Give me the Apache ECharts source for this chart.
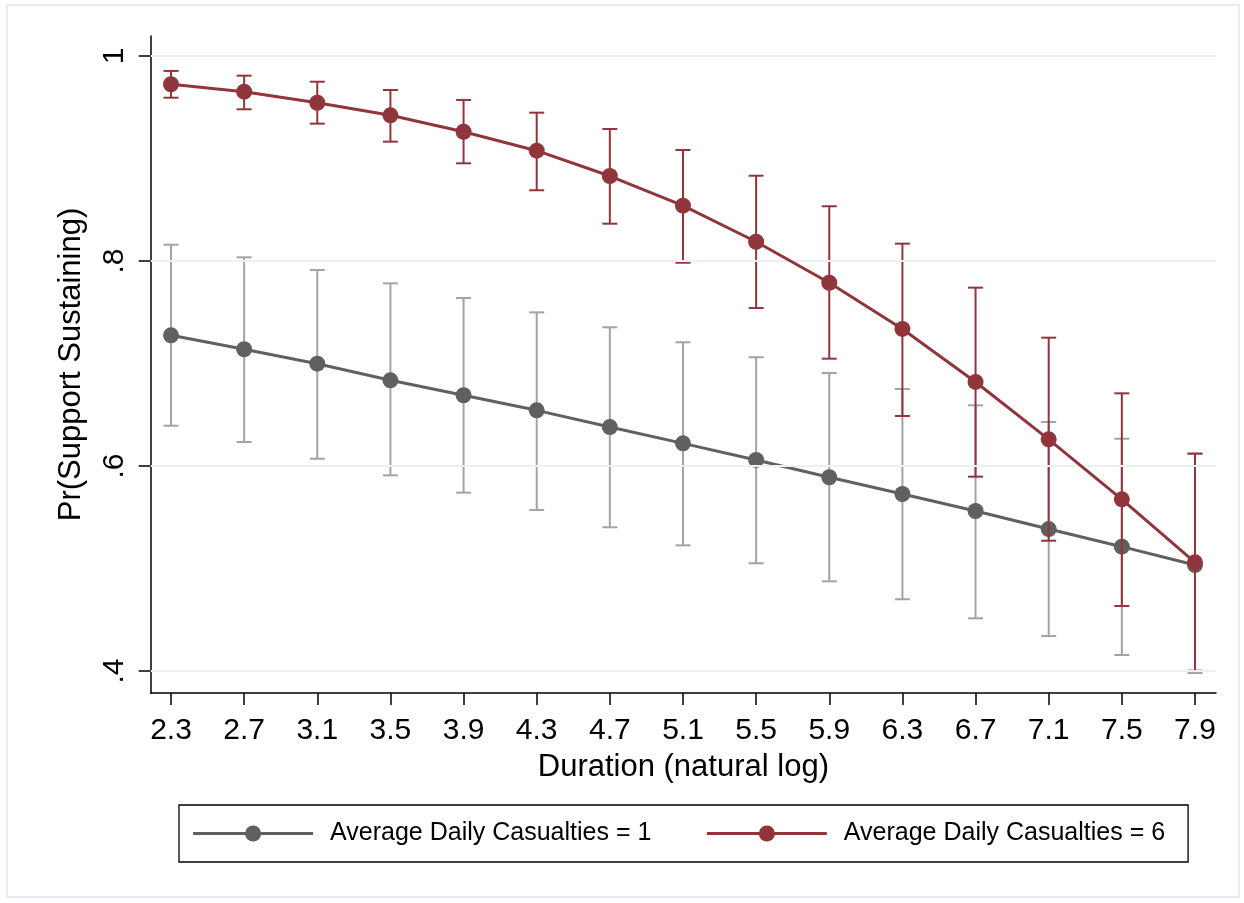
<!DOCTYPE html>
<html><head><meta charset="utf-8">
<script src="https://cdn.jsdelivr.net/npm/echarts@6/dist/echarts.min.js"></script>
<style>html,body{margin:0;padding:0;background:#fff}#c{width:1244px;height:903px}</style>
</head><body><div id="c"></div>
<script>
// ---- data ----
const durations = [2.3, 2.7, 3.1, 3.5, 3.9, 4.3, 4.7, 5.1, 5.5, 5.9, 6.3, 6.7, 7.1, 7.5, 7.9];
const xTickValues = [2.3, 2.7, 3.1, 3.5, 3.9, 4.3, 4.7, 5.1, 5.5, 5.9, 6.3, 6.7, 7.1, 7.5, 7.9];
const yTickValues = [0.4, 0.6, 0.8, 1];

const cas1Name = 'Average Daily Casualties = 1';
const cas1Mean  = [0.7275, 0.7139, 0.6998, 0.6836, 0.6690, 0.6543, 0.6380, 0.6221, 0.6059, 0.5890, 0.5727, 0.5561, 0.5385, 0.5213, 0.5034];
const cas1Lower = [0.6393, 0.6234, 0.6071, 0.5909, 0.5740, 0.5571, 0.5402, 0.5226, 0.5051, 0.4875, 0.4700, 0.4514, 0.4341, 0.4156, 0.3980];
const cas1Upper = [0.8159, 0.8036, 0.7912, 0.7782, 0.7639, 0.7499, 0.7353, 0.7207, 0.7061, 0.6907, 0.6751, 0.6592, 0.6429, 0.6266, 0.6117];

const cas6Name = 'Average Daily Casualties = 6';
const cas6Mean  = [0.9724, 0.9652, 0.9544, 0.9421, 0.9261, 0.9076, 0.8829, 0.8540, 0.8188, 0.7788, 0.7337, 0.6820, 0.6260, 0.5675, 0.5060];
const cas6Lower = [0.9593, 0.9480, 0.9340, 0.9164, 0.8953, 0.8690, 0.8364, 0.7983, 0.7541, 0.7047, 0.6488, 0.5896, 0.5271, 0.4634, 0.4003];
const cas6Upper = [0.9854, 0.9808, 0.9749, 0.9668, 0.9571, 0.9447, 0.9288, 0.9083, 0.8832, 0.8534, 0.8169, 0.7740, 0.7252, 0.6709, 0.6122];

// ---- styles ----
const FONT = '"Liberation Sans", Arial, Helvetica, sans-serif';
const GRAY = '#606060', GRAY_CI = '#a3a3a3';
const RED = '#90353B', RED_CI = '#90353B';

function pairs(xs, ys) { return xs.map((x, i) => [x, ys[i]]); }
function triples(xs, lo, hi) { return xs.map((x, i) => [x, lo[i], hi[i]]); }

function errRender(color) {
  return function (params, api) {
    const x = api.value(0), lo = api.value(1), hi = api.value(2);
    const a = api.coord([x, lo]), b = api.coord([x, hi]);
    const hw = 7.5;
    const style = { stroke: color, lineWidth: 2, fill: null };
    return {
      type: 'group',
      children: [
        { type: 'line', shape: { x1: a[0], y1: a[1], x2: b[0], y2: b[1] }, style: style },
        { type: 'line', shape: { x1: a[0] - hw, y1: a[1], x2: a[0] + hw, y2: a[1] }, style: style },
        { type: 'line', shape: { x1: b[0] - hw, y1: b[1], x2: b[0] + hw, y2: b[1] }, style: style }
      ]
    };
  };
}

const chart = echarts.init(document.getElementById('c'), null, { renderer: 'canvas' });
chart.setOption({
  animation: false,
  backgroundColor: '#ffffff',
  graphic: [{
    type: 'rect', silent: true, z: -10,
    shape: { x: 7, y: 5, width: 1232, height: 892 },
    style: { fill: null, stroke: '#e6edf0', lineWidth: 2 }
  }],
  grid: { left: 150.7, right: 28, top: 36, bottom: 210, containLabel: false },
  xAxis: {
    type: 'value', min: 2.189, max: 8.015,
    name: 'Duration (natural log)', nameLocation: 'middle', nameGap: 59,
    nameTextStyle: { fontFamily: FONT, fontSize: 31, color: '#000' },
    axisLine: { show: true, onZero: false, lineStyle: { color: '#000', width: 1.5 } },
    axisTick: { show: true, customValues: xTickValues, length: 12, lineStyle: { color: '#000', width: 1.5 } },
    axisLabel: { customValues: xTickValues, margin: 23, fontFamily: FONT, fontSize: 30, color: '#000',
                 formatter: v => v.toFixed(1) },
    splitLine: { show: false }
  },
  yAxis: {
    type: 'value', min: 0.37854, max: 1.0195,
    name: 'Pr(Support Sustaining)', nameLocation: 'middle', nameGap: 64, nameRotate: 90,
    nameTextStyle: { fontFamily: FONT, fontSize: 31, color: '#000' },
    axisLine: { show: true, onZero: false, lineStyle: { color: '#000', width: 1.5 } },
    axisTick: { show: true, customValues: yTickValues, length: 12, lineStyle: { color: '#000', width: 1.5 } },
    axisLabel: { customValues: yTickValues, rotate: 90, margin: 21, fontFamily: FONT, fontSize: 30, color: '#000',
                 formatter: v => (Math.abs(v - 1) < 1e-9 ? '1' : String(+v.toFixed(1)).replace(/^0/, '')) },
    splitLine: { show: false }
  },
  legend: {
    data: [cas1Name, cas6Name],
    selectedMode: false,
    left: 179, top: 805, orient: 'horizontal',
    itemWidth: 120, itemHeight: 20, itemGap: 54,
    padding: [16, 23, 16, 12.6],
    borderColor: '#000', borderWidth: 1.3,
    lineStyle: { width: 3 },
    textStyle: { fontFamily: FONT, fontSize: 25, color: '#000', lineHeight: 25, padding: [0, 0, 0, 12] }
  },
  series: [
    {
      name: 'gridlines', type: 'line', data: [], z: 0, silent: true,
      markLine: {
        silent: true, symbol: 'none', label: { show: false }, animation: false,
        lineStyle: { color: '#eaf1f3', width: 2, type: 'solid' },
        emphasis: { disabled: true },
        data: yTickValues.map(v => ({ yAxis: v }))
      }
    },
    {
      name: 'ci1', type: 'custom', z: 2, silent: true,
      renderItem: errRender(GRAY_CI),
      encode: { x: 0, y: [1, 2] },
      data: triples(durations, cas1Lower, cas1Upper)
    },
    {
      name: cas1Name, type: 'line', z: 3, silent: true,
      data: pairs(durations, cas1Mean),
      symbol: 'circle', symbolSize: 16, showAllSymbol: true,
      lineStyle: { color: GRAY, width: 3 },
      itemStyle: { color: GRAY }
    },
    {
      name: 'ci6', type: 'custom', z: 4, silent: true,
      renderItem: errRender(RED_CI),
      encode: { x: 0, y: [1, 2] },
      data: triples(durations, cas6Lower, cas6Upper)
    },
    {
      name: cas6Name, type: 'line', z: 5, silent: true,
      data: pairs(durations, cas6Mean),
      symbol: 'circle', symbolSize: 16, showAllSymbol: true,
      lineStyle: { color: RED, width: 3 },
      itemStyle: { color: RED }
    }
  ]
});
</script>
</body></html>
